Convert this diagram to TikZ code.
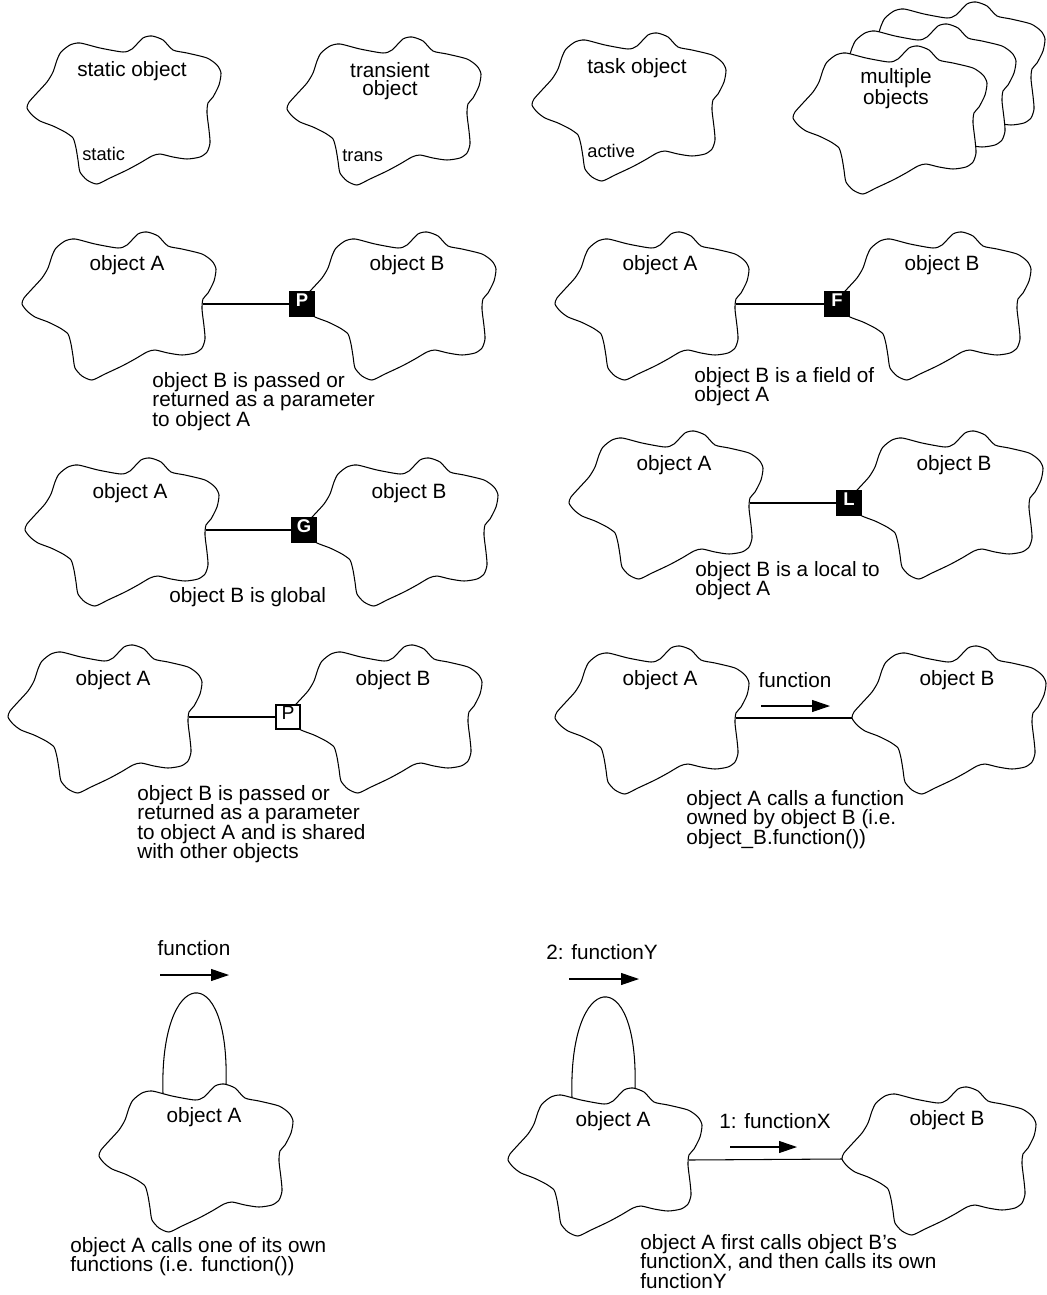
\documentclass[tikz,border=0pt]{standalone}
\usepackage{fontspec}
\setmainfont{Liberation Sans}
\usetikzlibrary{arrows.meta}
\begin{document}
\begin{tikzpicture}[x=0.02cm,y=-0.02cm,
  outline/.style={line width=0.6pt, line join=round},
  lbl/.style={inner sep=0pt, font=\fontsize{11.8}{11.1}\selectfont},
  lbl2/.style={inner sep=0pt, align=center, font=\fontsize{11.8}{10.6}\selectfont},
  tag/.style={inner sep=0pt, anchor=west, font=\fontsize{10.4}{11}\selectfont},
  note/.style={inner sep=0pt, anchor=north west, align=left, font=\fontsize{11.8}{11.1}\selectfont},
  refbox/.style={draw, line width=0.6pt, fill=black, text=white, inner sep=0pt,
    minimum size=0.48cm, text height=0.72em, text depth=0.43em,
    font=\fontsize{10.5}{10.5}\selectfont\bfseries},
  sharedbox/.style={draw, line width=0.6pt, fill=white, inner sep=0pt,
    minimum size=0.48cm, text height=0.72em, text depth=0.43em,
    font=\fontsize{11}{11}\selectfont},
  link/.style={line width=0.6pt},
  callarrow/.style={line width=0.6pt, -{Triangle[length=0.36cm,width=0.24cm]}},
  loopline/.style={line width=0.6pt},
  cloud/.pic={
    \draw[outline, fill=white] plot[smooth cycle, tension=0.42] coordinates {
      (-64,-58) (-55,-65) (-45,-67) (-25,-62) (-2,-58) (7,-61) (18,-72) (27,-74)
      (38,-70) (48,-60) (62,-57) (82,-52) (92,-45) (96,-37) (94,-25) (88,-13)
      (83,-7) (82,3) (84,20) (85,33) (82,42) (75,47) (62,49) (48,47) (35,44)
      (27,46) (15,53) (2,60) (-15,68) (-28,74) (-38,70) (-45,62) (-47,50)
      (-49,38) (-52,28) (-60,22) (-72,16) (-85,11) (-93,5) (-98,-2) (-96,-8)
      (-88,-17) (-78,-28) (-72,-38) (-68,-50)};
    \coordinate (-w) at (-98,-2);
    \coordinate (-e) at (83,-2);
    \coordinate (-lf) at (-34,-64.5);
    \coordinate (-rf) at (29,-73.5);
  }]

\fill[white] (0,0) rectangle (1047,1295);
\useasboundingbox (0,0) rectangle (1047,1295);

% ---- kinds of object
\pic (cs) at (125,110) {cloud};
\node[lbl] (ls) at (132,71) {static object};
\node[tag] (ts) at (82,154) {static};

\pic (ct) at (385,111) {cloud};
\node[lbl2] (lt) at (390,81) {transient\\object};
\node[tag] (tt) at (342,156) {trans};

\pic (ck) at (630,107) {cloud};
\node[lbl] (lk) at (637,68) {task object};
\node[tag] (tk) at (587,151) {active};

\pic (cm3) at (949,76) {cloud};
\pic (cm2) at (920,98) {cloud};
\pic (cm1) at (891,120) {cloud};
\node[lbl2] (lm) at (896,89) {multiple\\objects};

% ---- passed as parameter
\pic (pA) at (120,306) {cloud};
\pic (pB) at (400,306) {cloud};
\node[lbl] (pAl) at (127,265) {object A};
\node[lbl] (pBl) at (407,265) {object B};
\node[refbox] (pX) at (pB-w) {P};
\draw[link] (pA-e) -- (pX);
\node[note] (pN) at (152,372) {object B is passed or\\returned as a parameter\\to object A};

% ---- field
\pic (fA) at (653,306) {cloud};
\pic (fB) at (935,306) {cloud};
\node[lbl] (fAl) at (660,265) {object A};
\node[lbl] (fBl) at (942,265) {object B};
\node[refbox] (fX) at (fB-w) {F};
\draw[link] (fA-e) -- (fX);
\node[note] (fN) at (694,367) {object B is a field of\\object A};

% ---- global
\pic (gA) at (123,532) {cloud};
\pic (gB) at (402,532) {cloud};
\node[lbl] (gAl) at (130,493) {object A};
\node[lbl] (gBl) at (409,493) {object B};
\node[refbox] (gX) at (gB-w) {G};
\draw[link] (gA-e) -- (gX);
\node[lbl, anchor=west] (gN) at (169,597) {object B is global};

% ---- local
\pic (lA) at (667,505) {cloud};
\pic (lB) at (947,505) {cloud};
\node[lbl] (lAl) at (674,465) {object A};
\node[lbl] (lBl) at (954,465) {object B};
\node[refbox] (lX) at (lB-w) {L};
\draw[link] (lA-e) -- (lX);
\node[note] (lN) at (695,561) {object B is a local to\\object A};

% ---- shared parameter
\pic (sA) at (106,719) {cloud};
\pic (sB) at (386,719) {cloud};
\node[lbl] (sAl) at (113,680) {object A};
\node[lbl] (sBl) at (393,680) {object B};
\node[sharedbox] (sX) at (sB-w) {P};
\draw[link] (sA-e) -- (sX);
\node[note] (sN) at (137,785) {object B is passed or\\returned as a parameter\\to object A and is shared\\with other objects};

% ---- call to another object
\pic (cA) at (653,720) {cloud};
\pic (cB) at (950,720) {cloud};
\node[lbl] (cAl) at (660,680) {object A};
\node[lbl] (cBl) at (957,680) {object B};
\draw[link] (cA-e) -- (cB-w);
\node[lbl] (cF) at (795,680) {function};
\coordinate (cFs) at (761,706);
\coordinate (cFt) at (830,706);
\draw[callarrow] (cFs) -- (cFt);
\node[note] (cN) at (686,790) {object A calls a function\\owned by object B (i.e.\\object\_B.function())};

% ---- call to itself
\pic (oA) at (197,1158) {cloud};
\draw[loopline] (oA-lf) .. controls +(-4,-128) and +(4,-128) .. (oA-rf);
\node[lbl] (oAl) at (204,1117) {object A};
\node[lbl] (oF) at (194,948) {function};
\coordinate (oFs) at (160,975);
\coordinate (oFt) at (229,975);
\draw[callarrow] (oFs) -- (oFt);
\node[note] (oN) at (70,1237) {object A calls one of its own\\functions (i.e. function())};

% ---- call sequence
\pic (qA) at (606,1162) {cloud};
\pic (qB) at (940,1161) {cloud};
\draw[loopline] (qA-lf) .. controls +(-4,-128) and +(4,-128) .. (qA-rf);
\node[lbl] (qAl) at (613,1121) {object A};
\node[lbl] (qBl) at (947,1120) {object B};
\draw[link] (qA-e) -- (qB-w);
\node[lbl] (qY) at (602,952) {2: functionY};
\coordinate (qYs) at (569,979);
\coordinate (qYt) at (639,979);
\draw[callarrow] (qYs) -- (qYt);
\node[lbl] (qX) at (775,1121) {1: functionX};
\coordinate (qXs) at (730,1147);
\coordinate (qXt) at (797,1147);
\draw[callarrow] (qXs) -- (qXt);
\node[note] (qN) at (640,1234) {object A first calls object B’s\\functionX, and then calls its own\\functionY};

\end{tikzpicture}
\end{document}
